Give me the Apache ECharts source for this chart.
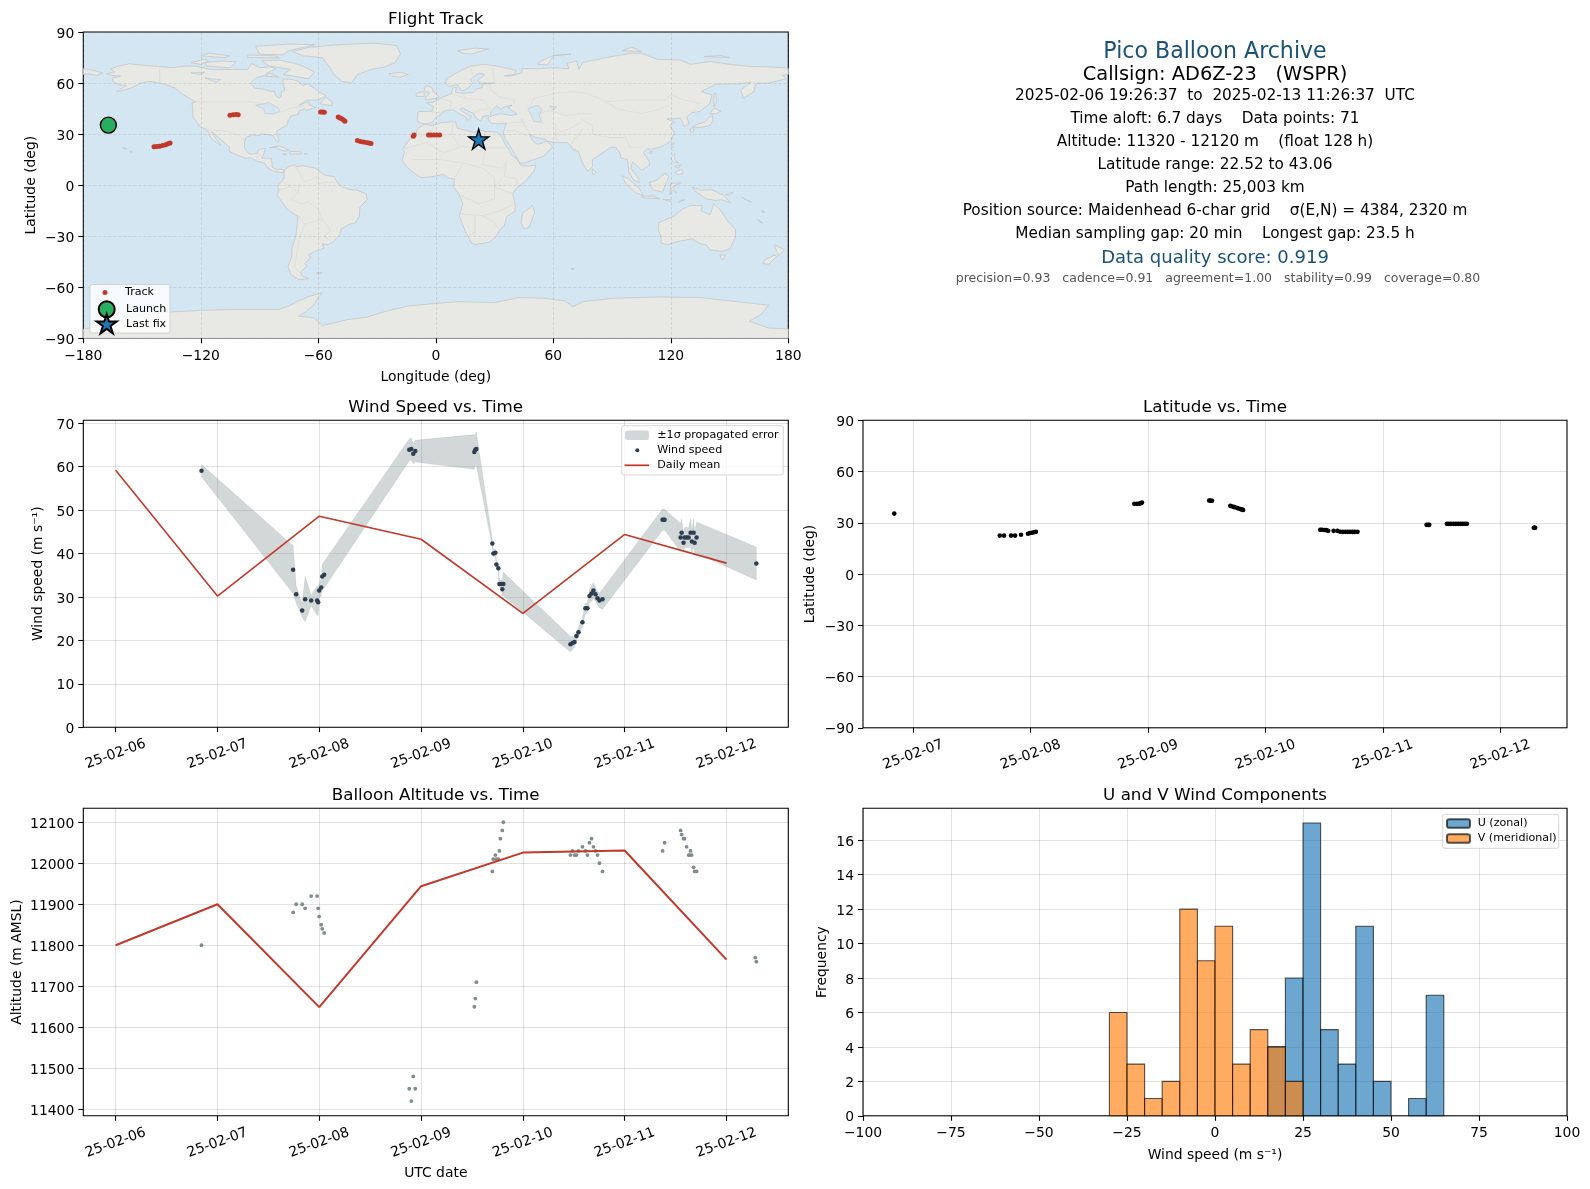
<!DOCTYPE html>
<html><head><meta charset="utf-8">
<script src="https://cdn.jsdelivr.net/npm/echarts@6/dist/echarts.min.js"></script>
<style>html,body{margin:0;padding:0;background:#fff}#c{width:1590px;height:1189px}</style>
</head><body><div id="c"></div>
<script>
// ---- data ----
const dayTicks = [6,7,8,9,10,11,12];
const latDayTicks = [7,8,9,10,11,12];
const windTime = [6.843,7.743,7.773,7.832,7.861,7.920,7.979,7.989,7.999,8.019,8.029,8.048,8.884,8.904,8.923,8.943,9.523,9.533,9.543,9.700,9.710,9.730,9.740,9.759,9.769,9.789,9.798,9.808,10.467,10.487,10.507,10.526,10.546,10.585,10.614,10.634,10.654,10.674,10.693,10.713,10.733,10.752,10.782,11.372,11.382,11.392,11.549,11.559,11.578,11.588,11.608,11.628,11.647,11.660,11.677,11.687,11.706,12.293];
const windSpeed = [59.1,36.3,30.6,26.9,29.5,29.2,29.2,28.8,31.5,32.2,34.7,35.1,63.9,64.1,63.0,63.6,63.4,63.9,64.1,42.3,40.0,40.2,37.5,36.6,33.0,33.0,31.8,33.0,19.1,19.4,19.6,21.0,21.9,24.2,27.4,27.4,30.2,30.8,31.5,30.6,29.7,29.2,29.5,47.8,47.8,47.8,43.7,44.8,42.5,43.7,43.7,43.7,44.8,42.8,44.8,42.5,43.7,37.7];
const windErr = [1.4,5.5,2.0,1.5,5.2,1.2,3.4,3.0,1.5,2.0,2.7,3.05,2.5,2.5,2.3,2.5,4.0,3.5,3.8,0.7,0.8,0.8,0.8,0.8,0.8,1.0,1.7,2.7,1.8,1.5,1.2,1.0,1.0,1.0,1.2,1.2,1.5,1.8,1.8,1.6,1.5,1.7,2.3,2.45,2.45,2.4,3.2,3.2,2.0,2.3,2.3,2.3,3.2,2.5,3.2,2.4,3.6,3.8];
const windDailyMean = [59.2,30.2,48.6,43.3,26.2,44.4,37.8];
const altDailyMean = [11800,11900,11649,11944,12026,12031,11765];
const altTime = [6.843,7.743,7.773,7.832,7.861,7.920,7.979,7.989,7.999,8.019,8.029,8.048,8.884,8.904,8.923,8.943,9.523,9.533,9.543,9.700,9.710,9.730,9.740,9.759,9.769,9.779,9.798,9.808,10.467,10.487,10.507,10.526,10.546,10.585,10.614,10.634,10.654,10.674,10.693,10.713,10.733,10.752,10.782,11.372,11.392,11.549,11.559,11.578,11.588,11.608,11.628,11.638,11.647,11.657,11.677,11.687,11.706,12.283,12.293];
const altValue = [11800,11880,11900,11900,11890,11920,11920,11890,11870,11850,11840,11830,11450,11420,11480,11450,11650,11670,11710,11980,12010,12020,12010,12010,12030,12060,12080,12100,12020,12030,12020,12020,12030,12040,12030,12020,12050,12060,12040,12030,12020,12000,11980,12030,12050,12080,12070,12060,12060,12040,12020,12020,12030,12020,11990,11980,11980,11770,11760];
const latTime = [6.838,7.737,7.773,7.833,7.867,7.918,7.977,7.994,8.011,8.028,8.045,8.883,8.905,8.925,8.940,8.948,9.520,9.530,9.545,9.700,9.710,9.730,9.740,9.760,9.770,9.790,9.800,9.810,10.466,10.480,10.500,10.517,10.534,10.580,10.613,10.636,10.660,10.680,10.700,10.720,10.740,10.760,10.784,11.372,11.386,11.395,11.545,11.560,11.580,11.600,11.620,11.640,11.660,11.680,11.700,11.715,12.285,12.291,12.297];
const latValue = [35.4,22.5,22.5,22.5,22.5,23.0,23.6,24.0,24.2,24.5,24.7,41.1,41.1,41.2,41.5,41.9,43.06,43.0,42.95,40.0,39.7,39.3,39.1,38.7,38.4,38.0,37.8,37.5,25.9,25.9,25.8,25.7,25.3,25.3,25.3,24.8,24.7,24.7,24.7,24.7,24.7,24.7,24.7,28.8,28.8,28.8,29.4,29.4,29.4,29.4,29.4,29.4,29.4,29.4,29.4,29.4,27.1,27.1,27.1];
const trackLon = [-143.9,-142.5,-141,-139.5,-138,-136.8,-135.7,-105.1,-103.5,-102,-100.9,-58.8,-57.8,-56.9,-49.8,-48.9,-48,-47.1,-46.4,-40,-38.5,-37,-35.5,-34.2,-33.1,-11.5,-11.1,-3.7,-2.5,-1,0.5,2.0];
const trackLat = [22.6,22.7,22.9,23.3,23.8,24.3,24.7,41.1,41.3,41.5,41.4,43.06,43,42.8,40,39.5,39,38.3,37.5,26.2,25.7,25.3,25,24.8,24.5,28.8,29.4,29.4,29.4,29.4,29.4,29.4];
const launchPoint = [-167.2,35.3];
const lastFixPoint = [21.9,27.0];
const histULow = [15,20,25,30,35,40,45,55,60];
const histUCount = [4,8,17,5,3,11,2,1,7];
const histVLow = [-30,-25,-20,-15,-10,-5,0,5,10,15,20];
const histVCount = [6,3,1,2,12,9,11,3,5,4,2];
const histBinWidth = 5;
const mapLonTicks = [-180,-120,-60,0,60,120,180];
const latTicks = [-90,-60,-30,0,30,60,90];
const windTicks = [0,10,20,30,40,50,60,70];
const altTicks = [11400,11500,11600,11700,11800,11900,12000,12100];
const histXTicks = [-100,-75,-50,-25,0,25,50,75,100];
const histYTicks = [0,2,4,6,8,10,12,14,16];
const infoLines = [
 ['Pico Balloon Archive',52,'h1'],
 ['Callsign: AD6Z-23   (WSPR)',75,'h2'],
 ['2025-02-06 19:26:37  to  2025-02-13 11:26:37  UTC',96,'b'],
 ['Time aloft: 6.7 days    Data points: 71',119.4,'b'],
 ['Altitude: 11320 - 12120 m    (float 128 h)',142.4,'b'],
 ['Latitude range: 22.52 to 43.06',165,'b'],
 ['Path length: 25,003 km',188,'b'],
 ['Position source: Maidenhead 6-char grid    σ(E,N) = 4384, 2320 m',211,'b'],
 ['Median sampling gap: 20 min    Longest gap: 23.5 h',234,'b'],
 ['Data quality score: 0.919',258.7,'h3'],
 ['precision=0.93   cadence=0.91   agreement=1.00   stability=0.99   coverage=0.80',279,'s']
];
// coastlines, lon/lat
const landPolygons = [
 [[-168,65.5],[-164,66.5],[-166,68.3],[-162,70],[-156.5,71.3],[-150,70.5],[-141,69.7],[-135,69],[-128,70],[-122,69.8],[-115,68],[-108,68],[-100,68],[-96,68],[-94,71.5],[-90,69],[-85,69.5],[-81.5,68.5],[-86,66],[-87.5,64.5],[-92,63],[-94.5,60],[-92.5,57],[-88,56.5],[-85,55.3],[-82.3,55],[-82,52.8],[-80,51.3],[-79,52],[-79,54.5],[-77,56],[-78,59],[-78,62.5],[-73,62],[-70,61],[-68,58.5],[-65.5,59.5],[-62,57],[-60,55],[-56,52.5],[-60,50],[-66,50],[-70,47],[-65,49],[-64.5,47],[-61,45.8],[-66,44],[-67,45],[-70,43.5],[-70,41.7],[-74,40.6],[-75.5,37.5],[-76,35],[-78,34],[-81,32],[-81.3,30],[-80,26.5],[-80.5,25.2],[-82,27],[-83,29],[-85,29.7],[-89,30.2],[-90,29.2],[-94,29.5],[-97,28],[-97.7,25],[-97.8,22.3],[-96,19],[-94,18.2],[-91,18.7],[-90.5,21],[-87,21.5],[-88,18],[-88.8,15.9],[-84,15.8],[-83.5,12],[-83.7,10.7],[-81,8.9],[-79.5,9.5],[-77.3,8.7],[-78,7.5],[-80,7.5],[-83,8.3],[-85.8,10],[-87.5,13],[-91,14],[-94.5,16.2],[-97,15.8],[-102,17.8],[-105.5,20],[-105.5,22.5],[-109,26],[-112.5,29.5],[-114.7,31.7],[-112.5,27.5],[-110,24],[-109.7,23],[-112,25],[-115,28],[-116,31],[-117.2,32.7],[-120.5,34.5],[-122,37],[-124,40],[-124,44],[-124.5,48.3],[-122.5,49],[-125,50.5],[-128,52.5],[-130.5,54.5],[-133,57],[-137,58.8],[-141,60],[-146,61],[-151,60],[-152,59],[-156,57],[-161,55.2],[-163,55],[-158,58.5],[-162,59],[-165,61],[-165,63],[-161,64],[-166,64.6]],
 [[-73,78.5],[-65,81],[-50,82.5],[-32,83.5],[-20,82],[-18,77],[-21,72],[-26,69.5],[-33,68],[-40,65],[-43,60],[-48,61],[-52,65],[-54,69],[-58,75],[-68,76]],
 [[-80,73.5],[-72,71.5],[-68,70],[-62,66.5],[-65,62.5],[-72,64],[-78,65],[-74,68],[-85,70],[-89,73]],
 [[-117,70],[-105,69],[-102,72.5],[-110,73],[-118,72]],
 [[-125,72],[-118,74],[-116,73],[-120,71]],
 [[-90,77],[-78,76.5],[-75,79],[-62,82.5],[-75,83],[-92,81.5]],
 [[-96,75],[-80,74.8],[-82,76],[-96,76.5]],
 [[-120,76],[-108,75],[-105,76],[-116,77.5]],
 [[-87,64],[-80,63.5],[-85,65.8]],
 [[-59,47.7],[-53,46.7],[-53,49],[-56,51.5],[-58,49.5]],
 [[-85,22],[-80,23],[-75,20.5],[-77.5,19.9],[-82,22.2]],
 [[-74.5,19.8],[-69,19.6],[-68.5,18.3],[-74.3,18.2]],
 [[-78.3,18.4],[-76.3,18.2],[-77,17.8]],
 [[-67.2,18.5],[-65.6,18.4],[-66,18]],
 [[-156,20],[-155,19.7],[-155.5,19],[-156,19.5]],
 [[-160,22],[-157.8,21.6],[-158.2,21.2]],
 [[-77.3,8.7],[-75,11],[-72,12],[-71.5,10.8],[-68,11.5],[-64,10.5],[-61.5,10],[-57,6],[-52,5],[-50,1],[-48,-1],[-44,-2.5],[-40,-3],[-35.5,-5.2],[-35,-8.5],[-38.8,-13],[-39,-18],[-41,-22],[-44.5,-23.2],[-48.5,-26],[-49,-29],[-52.5,-33.5],[-55,-35],[-58,-34.5],[-57,-37],[-62,-39],[-65,-41],[-63.8,-42.5],[-67,-46],[-65.8,-47.5],[-69,-51],[-68.5,-53],[-65,-55],[-70,-55.5],[-74,-52.5],[-75.5,-48],[-73.5,-42],[-73.5,-37],[-71.5,-30],[-70.3,-18.5],[-76,-14],[-81,-6],[-80,-3],[-81,-0.5],[-78.8,2],[-77.5,4],[-77.5,7]],
 [[-61,-51.5],[-58,-51.3],[-59,-52.3]],
 [[-6,35.8],[-2,35],[3,36.8],[10,37.3],[11,33.5],[15,32.3],[20,30.8],[22,32.8],[25,31.6],[31,31.2],[32.5,30],[34,27.5],[35.5,24],[37.3,21],[38.5,18],[42,14.5],[43.5,11.5],[47,11.2],[51.2,11.8],[50,8],[46,2.5],[41,-2],[39.3,-5.5],[40.5,-11],[40.6,-15],[36,-18.8],[35,-24],[32.8,-26],[31,-30],[27,-33.7],[20,-34.8],[18.3,-34],[15,-27],[12,-18],[13.8,-11],[12,-5.5],[9,-1],[9.7,3.5],[6,4.3],[4,6.3],[-2,5],[-7.5,4.4],[-13,8.7],[-15,11],[-17.3,14.7],[-16,19.5],[-17,21],[-13,27.7],[-10,30],[-9.5,33]],
 [[49.3,-12],[50.5,-16],[47.5,-25],[45,-25.5],[43.5,-22],[44.3,-16.5]],
 [[-9,37],[-9.5,38.8],[-9,43.2],[-2,43.4],[-1,46],[-4.7,48.4],[-1.5,48.7],[1.5,50.5],[4,52],[8,53.7],[8.5,57],[10.5,57.5],[10,54.5],[14,54],[19,54.5],[21,56.5],[24,57.5],[23.5,59.3],[30,60],[23,60],[21.3,61.5],[25,65],[22,65.8],[17.5,62],[18.8,60],[16.5,57],[14,55.5],[12.7,56],[11,59],[7,58],[5,60],[5.5,62.5],[13,67.5],[18,70],[25,71],[31,70],[41,67.5],[40,65],[35,64.3],[38,64],[44,66],[44,68.5],[54,68.5],[60,69],[68,68.5],[67,71.5],[72,73],[73,68],[75,72],[81,73.5],[87,75],[100,77.5],[105,77.5],[113,74],[125,73.5],[130,71],[140,72.7],[150,71],[160,69.8],[170,69.5],[178,69],[180,68.5],[180,65],[177,64.7],[179,62.5],[170,60],[164,60],[163,58],[162.5,55],[157,51],[155.7,56],[161,60.5],[155,59.5],[143,59.3],[135.5,55],[141,53],[140,48],[135,43.5],[130.7,42.5],[128,40],[129.5,36],[126.5,34.5],[126,37],[125,39.5],[121.5,39],[118,39],[122,37],[119.5,35],[121.8,31],[120,26],[116,23],[110,21],[108,21.5],[106,19],[109,14],[109,11.5],[105,8.8],[103,11],[100.5,13.5],[99.5,10],[103.5,4],[104,1.4],[101,3],[98.5,8],[98,15],[94.5,16],[94,19],[91.8,22.4],[89,22],[86.5,20],[82,16.5],[80,15],[80,11],[77.5,8],[74.5,14],[72.8,20],[70,21],[69,23],[67,25],[61,25],[57,25.8],[56,27],[51,28],[48,30],[48.5,28],[50.5,25],[52,24],[55,25],[56.5,26],[59.8,22.5],[55,17],[45,13],[43,13],[39,21],[35,28],[34.5,31],[36,36.5],[32,36],[28,36.5],[26.5,39.5],[29,41],[33,42],[38,41],[41.5,41.7],[39,44],[37,45.3],[39,47],[35,46],[33.5,44.5],[31,46.5],[28,43],[28,41.3],[26,40.8],[24,40.5],[23,37.5],[20,40],[19.5,42],[15,44.5],[13.5,45.5],[12.3,44.5],[16,41.5],[18.3,40],[16,38],[15.5,40],[12,42],[9,44.3],[4,43.5],[3,42],[0,39.5],[-2,36.8],[-5.5,36]],
 [[-180,68.5],[-175,67.5],[-170,66],[-173,64.5],[-178,65.5],[-180,65]],
 [[-5.5,50],[1.5,51.3],[1,53],[-1.5,55],[-2,57.5],[-5,58.5],[-6,56],[-3,54],[-5,52]],
 [[-10,52],[-6,52.2],[-6,55],[-10,54]],
 [[-24,65.5],[-18,66.3],[-14,65],[-18,63.5],[-22.5,64]],
 [[11,79],[20,80.5],[27,80],[18,77],[14,77.5]],
 [[52,71],[57,70.7],[60,76],[69,77],[60,76.3],[54,73]],
 [[95,79],[105,78.5],[100,81]],
 [[137,75.5],[150,75],[145,76.2]],
 [[142,46],[143.5,49],[143,54],[142,53.5],[142,48]],
 [[130.8,34],[136,34],[140,35],[141.5,38],[141.3,41.3],[140,40],[137,37],[133,35.5]],
 [[140,42],[143,42],[145.5,43.5],[142,45.5]],
 [[130,33],[132,33],[131,31],[130,31.5]],
 [[120,23],[121.5,25],[121,22]],
 [[108.7,19],[110.5,20],[110,18.3]],
 [[120,16],[122,18.5],[122,15],[124,13],[121,13.8]],
 [[122,7.5],[125.5,9.5],[126.5,7],[124,6]],
 [[122,11],[125,12],[124,10]],
 [[109,1.5],[113,3],[117,7],[119,5],[117.5,1],[116,-4],[111,-3]],
 [[95,5.5],[98,4],[104,-2],[106,-6],[102,-4.5],[97,1]],
 [[105,-6.5],[111,-6.5],[114.5,-8],[106,-7.5]],
 [[119.5,-5.5],[120,1],[125,1.3],[121,-1],[123,-4.5],[120.5,-3]],
 [[131,-1],[135,-3],[141,-2.7],[147,-6],[150.5,-10.5],[146,-8.5],[143,-9],[138,-8],[133,-4]],
 [[124,-10],[127,-8.5],[125,-9]],
 [[116,-8.5],[120,-8.5],[120,-9.5]],
 [[80,9.5],[82,7.5],[80.5,6],[79.8,8]],
 [[148,-5.5],[152,-4.2],[150,-6.2]],
 [[156,-7],[161,-10],[159,-9]],
 [[164,-20],[167,-22.2],[166,-22]],
 [[166.5,-15],[168,-16],[167,-16]],
 [[114,-22],[122,-18],[126,-14],[130,-12],[136,-12],[135.5,-15],[140,-17.5],[142,-11],[145.5,-15],[149,-21],[153,-26],[153,-31],[150,-37.5],[146,-39],[140,-38],[138,-35],[135,-34.5],[131,-31.5],[124,-33],[118,-35],[115,-34],[115,-30],[113.5,-26]],
 [[145,-41],[148,-41],[147,-43.5],[146,-43.5]],
 [[173,-35],[178,-38],[175,-41.5],[174,-39]],
 [[173,-41],[174,-42],[170,-46.5],[167,-46],[168,-44]],
 [[69,-49],[70.5,-49],[70,-49.8]],
 [[-180,-84.5],[-165,-82],[-158,-78],[-148,-76],[-135,-74.5],[-118,-73.5],[-100,-73],[-90,-73],[-80,-73],[-75,-71],[-70,-68],[-65,-65.5],[-58,-63.2],[-60,-66],[-62,-70],[-66,-74],[-70,-77],[-62,-78],[-58,-82.5],[-45,-79],[-35,-77.5],[-25,-74],[-14,-71],[0,-69.5],[12,-68.5],[30,-69],[43,-66],[55,-66.5],[66,-68],[70,-71.5],[75,-68.5],[90,-66.5],[113,-65.7],[135,-66],[150,-68],[170,-70.5],[166,-76],[160,-80],[170,-84],[180,-84.5],[180,-90],[-180,-90]]
];
const waterPolygons = [
 [[47,45],[52,47],[54,44.5],[53,41],[54,37],[50,37.5],[49,40.5]],
 [[-92,47],[-85,48.5],[-80,45],[-80,43],[-83,42],[-87,42],[-88,45]],
 [[-118,63],[-110,62],[-112,60.5]],
 [[-125,66],[-118,66.5],[-120,65]],
 [[58,46.5],[61.5,46],[60,44]]
];
const borderLines = [
 [[-141,69.7],[-141,60]],[[-123,49],[-95,49],[-89,48],[-83,46],[-82.5,42.5],[-79,43],[-75,45],[-70,46],[-67.5,47]],[[-117,32.5],[-106.5,31.7],[-101,29.5],[-97.5,26]],[[-92,14.5],[-91,17.5],[-89,18]],
 [[-60,5],[-60,1],[-52,2]],[[-70,1],[-70,-4],[-74,-8],[-69,-11],[-65,-10],[-60,-14],[-58,-20],[-55,-24],[-54,-27],[-57,-30],[-53,-33]],[[-70,-18],[-67,-23],[-70,-33],[-72,-48],[-69,-52]],[[-67,-23],[-58,-20]],[[-72,12],[-67,2],[-60,5]],[[-78,2],[-75,0],[-70,-4]],[[-80,-3],[-75,-1]],
 [[28,60],[28,56],[32,52],[40,50],[40,47.5]],[[48,46],[50,51],[61,54],[70,55],[77,54],[87,49],[98,50],[107,50],[117,50],[120,53],[127,50],[135,48],[131,43]],[[87,49],[92,45],[105,42],[112,44],[119,47]],[[74,39],[80,35],[80,30],[88,28],[97,28],[99,22],[106,22.5]],[[62,25],[61,30],[70,34],[74,37]],[[69,24],[71,27],[75,33]],[[44,39],[46,34],[48,30]],[[61,36],[61,30]],[[52,42],[58,44],[66,41],[75,42],[80,42]],[[36,32],[40,32],[47,29]],
 [[-2,43],[3,42.5]],[[2.5,51],[8,49],[7,44]],[[8,54],[15,51],[14,54]],[[15,51],[24,50],[28,45],[22,44],[19,42]],[[18,69],[20,60]],[[29,69],[30,61]],[[36,36.5],[44,37],[44,39]],
 [[-9,28],[-2,32],[-1,35]],[[9,37],[8,30],[12,23]],[[25,31.5],[25,20],[24,12],[34,10],[36,14]],[[-17,21],[-5,25],[4,19],[14,23],[24,20]],[[-12,15],[3,15],[14,13]],[[14,13],[10,4.5]],[[14,13],[24,10],[30,4],[30,-8],[22,-11],[13,-6]],[[36,14],[35,5],[41,4],[42,-1]],[[34,4],[30,-1],[39,-5]],[[12,-17],[24,-18],[33,-15],[40,-11]],[[20,-18],[20,-28],[17,-29]],[[24,-18],[30,-22],[32,-26]],[[25,22],[37,22]]
];
// ---- layout and style ----
const FONT='DejaVu Sans';
const G=[{left:83.3,top:32,width:705,height:306.3},{left:83.3,top:420.3,width:705,height:306.9},{left:863,top:420.3,width:704,height:307.5},{left:83.3,top:808.3,width:705,height:307.5},{left:863,top:808.3,width:704,height:307.5}];
const RED='#c0392b', NAVY='#2c3e50', GRID='rgba(0,0,0,0.115)';
const STAR='path://M0,-10 L2.245,-3.09 L9.51,-3.09 L3.63,1.18 L5.88,8.09 L0,3.82 L-5.88,8.09 L-3.63,1.18 L-9.51,-3.09 L-2.245,-3.09 Z';
const fmtNum=v=>String(v).replace('-','\u2212');
const fmtY=v=>'{t|'+fmtNum(v)+'}';
const fmtDay=v=>'25-02-'+String(v).padStart(2,'0');
const yRich={t:{fontFamily:FONT,fontSize:13.9,color:'#000',padding:[4,0,0,0]}};
function axis(index,min,max,ticks,o){o=o||{};
 return Object.assign({type:'value',gridIndex:index,min,max,scale:true,
  axisLine:{show:false,onZero:false},
  axisTick:{show:true,length:5,inside:false,customValues:ticks,lineStyle:{color:'#000',width:1.1}},
  axisLabel:{customValues:ticks,formatter:o.fmt||fmtNum,rich:o.rich,fontFamily:FONT,fontSize:13.9,color:'#000',margin:o.margin||9,rotate:o.rotate||0,align:o.align,verticalAlign:o.valign,hideOverlap:false},
  splitLine:{show:true,lineStyle:o.gridStyle||{color:GRID,width:1.1}},
  nameLocation:'middle',nameTextStyle:{fontFamily:FONT,fontSize:13.9,color:'#000'}},o.extra||{});
}
const dateAxis=(i,min,max,ticks,extra)=>axis(i,min,max,ticks,{fmt:fmtDay,rotate:20,align:'center',valign:'middle',margin:27,extra});
const mapGrid={color:'rgba(110,110,110,0.22)',width:0.8,type:[3,2]};
const polyRender=(list,style,closed)=>(params,api)=>{
 const pts=list[params.dataIndex].map(p=>api.coord(p));
 return {type:closed?'polygon':'polyline',shape:{points:pts},style,silent:true};
};
const idx=list=>list.map((_,i)=>[i]);
const EDGE='rgba(0,0,0,0.65)';
const histRender=(low,count,fill)=>(params,api)=>{
 const i=params.dataIndex,a=api.coord([low[i],count[i]]),b=api.coord([low[i]+histBinWidth,0]);
 return {type:'rect',shape:{x:a[0],y:a[1],width:b[0]-a[0],height:b[1]-a[1]},style:{fill,stroke:EDGE,lineWidth:1.1}};
};
const UFILL='rgba(31,119,180,0.65)',VFILL='rgba(255,127,14,0.65)',BAND='rgba(127,140,141,0.35)';
const bandRender=(params,api)=>{
 const up=windTime.map((t,i)=>api.coord([t,windSpeed[i]+windErr[i]]));
 const lo=windTime.map((t,i)=>api.coord([t,windSpeed[i]-windErr[i]])).reverse();
 return {type:'polygon',shape:{points:up.concat(lo)},style:{fill:BAND,stroke:'rgba(127,140,141,0.15)',lineWidth:1}};
};
const zip=(a,b)=>a.map((v,i)=>[v,b[i]]);
const titles=[['Flight Track',435.7,11],['Wind Speed vs. Time',435.7,399],['Latitude vs. Time',1215,399],['Balloon Altitude vs. Time',435.7,787],['U and V Wind Components',1215,787]];
const leg=(name,left,cy,w,h,pad,extra)=>Object.assign({show:true,orient:'horizontal',selectedMode:false,left,top:h<13?cy-5.2:cy-h/2,itemWidth:w,itemHeight:h,padding:0,data:[name],textStyle:{fontFamily:FONT,fontSize:11.1,color:'#000',padding:[0,0,0,pad]},z:60},extra||{});
const boxes=[[90,284.5,80,48.5],[621.7,425.7,161.5,49.3],[1442.7,814.3,116,34]];
const infoStyle={h1:{fontSize:22.1,fill:'#1a5276'},h2:{fontSize:19.4,fill:'#000'},b:{fontSize:15.3,fill:'#000'},h3:{fontSize:18,fill:'#1a5276'},s:{fontSize:12.5,fill:'#555'}};
const yOpts=extra=>({fmt:fmtY,rich:yRich,extra});
const option={
 animation:false,backgroundColor:'#fff',
 textStyle:{fontFamily:FONT},
 title:titles.map(t=>({text:t[0],left:t[1],top:t[2],textAlign:'center',padding:0,textStyle:{fontFamily:FONT,fontSize:16.7,fontWeight:'normal',color:'#000'}})),
 grid:G.map((g,i)=>Object.assign({show:true,borderColor:'#000',borderWidth:1.1,backgroundColor:i===0?'#d4e6f1':'#fff',containLabel:false},g)),
 xAxis:[
  axis(0,-180,180,mapLonTicks,{margin:11,gridStyle:mapGrid,extra:{name:'Longitude (deg)',nameGap:32,z:3}}),
  dateAxis(1,5.682,12.607,dayTicks),
  dateAxis(2,6.572,12.568,latDayTicks),
  dateAxis(3,5.682,12.607,dayTicks,{name:'UTC date',nameGap:51}),
  axis(4,-100,100,histXTicks,{margin:11,extra:{name:'Wind speed (m s\u207B\u00B9)',nameGap:33}})
 ],
 yAxis:[
  axis(0,-90,90,latTicks,Object.assign(yOpts({name:'Latitude (deg)',nameGap:45,z:3}),{gridStyle:mapGrid})),
  axis(1,0,70.7,windTicks,yOpts({name:'Wind speed (m s\u207B\u00B9)',nameGap:38})),
  axis(2,-90,90,latTicks,yOpts({name:'Latitude (deg)',nameGap:46})),
  axis(3,11384,12134,altTicks,yOpts({name:'Altitude (m AMSL)',nameGap:59})),
  axis(4,0,17.85,histYTicks,yOpts({name:'Frequency',nameGap:34}))
 ],
 legend:[
  leg('Track',102.5,292.3,5,5,12.5),
  leg('Launch',97.7,308.3,16,16,6.3),
  leg('Last fix',95.7,323.3,20,20,4.3),
  leg('\u00B11\u03C3 propagated error',625,435,24,9.5,3.3),
  leg('Wind speed',635.3,450,4,4,13),
  leg('Daily mean',624.5,465,24.5,1.7,3.3,{data:[{name:'Daily mean',icon:'rect'}]}),
  leg('U (zonal)',1446,823.3,23,8.5,2.7),
  leg('V (meridional)',1446,838.3,23,8.5,2.7)
 ],
 series:[
  {type:'custom',name:'land',xAxisIndex:0,yAxisIndex:0,z:1,silent:true,data:idx(landPolygons),renderItem:polyRender(landPolygons,{fill:'#e8e8e4',stroke:'#bfc3c6',lineWidth:0.7},true)},
  {type:'custom',name:'water',xAxisIndex:0,yAxisIndex:0,z:1.1,silent:true,data:idx(waterPolygons),renderItem:polyRender(waterPolygons,{fill:'#d4e6f1',stroke:'#bfc3c6',lineWidth:0.6},true)},
  {type:'custom',name:'borders',xAxisIndex:0,yAxisIndex:0,z:1.2,silent:true,data:idx(borderLines),renderItem:polyRender(borderLines,{fill:'none',stroke:'#dadad6',lineWidth:0.7},false)},
  {type:'scatter',name:'Track',xAxisIndex:0,yAxisIndex:0,z:5,symbolSize:5,itemStyle:{color:RED,opacity:1},data:zip(trackLon,trackLat)},
  {type:'scatter',name:'Launch',xAxisIndex:0,yAxisIndex:0,z:6,symbolSize:16,itemStyle:{color:'#27ae60',borderColor:'#000',borderWidth:1.4,opacity:1},data:[launchPoint]},
  {type:'scatter',name:'Last fix',xAxisIndex:0,yAxisIndex:0,z:6,symbol:STAR,symbolSize:20,itemStyle:{color:'#1f77b4',borderColor:'#000',borderWidth:1.4,opacity:1},data:[lastFixPoint]},
  {type:'custom',name:'\u00B11\u03C3 propagated error',xAxisIndex:1,yAxisIndex:1,z:2,silent:true,data:[[0]],renderItem:bandRender,itemStyle:{color:BAND}},
  {type:'scatter',name:'Wind speed',xAxisIndex:1,yAxisIndex:1,z:4,symbolSize:4.5,itemStyle:{color:NAVY,opacity:1},data:zip(windTime,windSpeed)},
  {type:'line',name:'Daily mean',xAxisIndex:1,yAxisIndex:1,z:3,showSymbol:false,symbol:'none',lineStyle:{color:RED,width:1.6},itemStyle:{color:RED},data:zip(dayTicks,windDailyMean)},
  {type:'scatter',name:'Latitude',xAxisIndex:2,yAxisIndex:2,symbolSize:4.6,itemStyle:{color:'#000',opacity:1},data:zip(latTime,latValue)},
  {type:'scatter',name:'Altitude',xAxisIndex:3,yAxisIndex:3,symbolSize:3.8,itemStyle:{color:'#7f8c8d',opacity:1},data:zip(altTime,altValue)},
  {type:'line',name:'Altitude daily mean',xAxisIndex:3,yAxisIndex:3,showSymbol:false,symbol:'none',lineStyle:{color:RED,width:2},data:zip(dayTicks,altDailyMean)},
  {type:'custom',name:'U (zonal)',xAxisIndex:4,yAxisIndex:4,z:2,silent:true,data:idx(histULow),renderItem:histRender(histULow,histUCount,UFILL),itemStyle:{color:UFILL,borderColor:EDGE,borderWidth:1}},
  {type:'custom',name:'V (meridional)',xAxisIndex:4,yAxisIndex:4,z:3,silent:true,data:idx(histVLow),renderItem:histRender(histVLow,histVCount,VFILL),itemStyle:{color:VFILL,borderColor:EDGE,borderWidth:1}}
 ],
 graphic:[
  ...boxes.map(b=>({type:'rect',z:50,silent:true,shape:{x:b[0],y:b[1],width:b[2],height:b[3],r:2},style:{fill:'rgba(255,255,255,0.8)',stroke:'rgba(204,204,204,0.8)',lineWidth:1}})),
  ...infoLines.map(l=>({type:'text',x:l[2]==='s'?1218:1215,y:l[1],silent:true,style:Object.assign({text:l[0],fontFamily:FONT,textAlign:'center',textVerticalAlign:'middle'},infoStyle[l[2]])}))
 ]
};
const chart=echarts.init(document.getElementById('c'),null,{renderer:'canvas',width:1590,height:1189});
chart.setOption(option);
</script></body></html>
